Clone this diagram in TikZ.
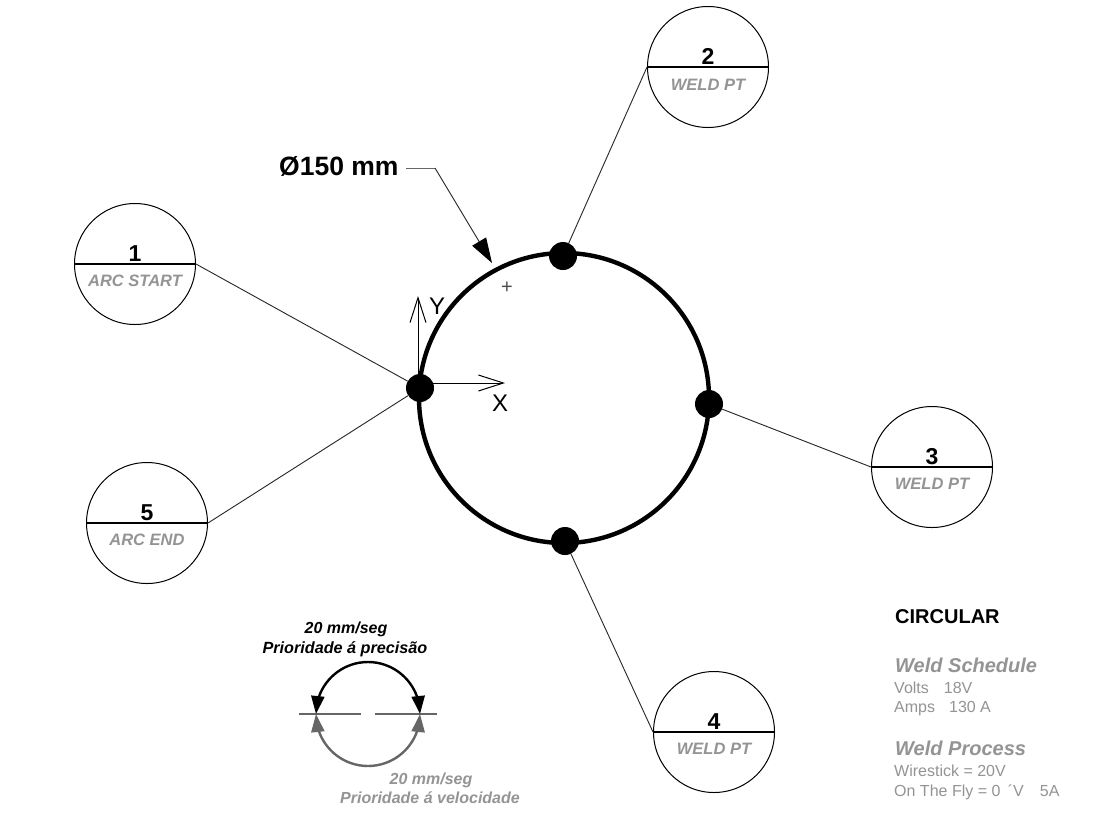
\documentclass[tikz,border=0pt]{standalone}
\usepackage{fontspec}
\setmainfont{Liberation Sans}
\usetikzlibrary{arrows.meta,bending}
\newcommand{\fs}[1]{\fontsize{#1}{#1}\selectfont}
\colorlet{softgray}{black!42}
\colorlet{midgray}{black!60}
\tikzset{
  bubble/.style={circle,draw=black,line width=1pt,minimum size=121pt,inner sep=0pt,fill=white},
  divider/.style={line width=1.2pt,black},
  leader/.style={line width=0.9pt,black!85},
  ptdot/.style={circle,fill=black,minimum size=28pt,inner sep=0pt},
  numtxt/.style={font=\bfseries\fs{23},anchor=base,inner sep=0pt},
  captxt/.style={font=\bfseries\itshape\fs{16.5},text=softgray,anchor=base,inner sep=0pt},
  ltxt/.style={anchor=base west,inner sep=0pt},
  solidhead/.style={-{Triangle[length=25pt,width=16pt,black]}},
  openhead/.style={-{Straight Barb[length=25pt,width=16pt,line width=1pt]}},
  speedhead/.style={{Triangle[length=18pt,width=13pt,flex=0.6]}-{Triangle[length=18pt,width=13pt,flex=0.6]}}
}
\begin{document}
\begin{tikzpicture}[x=1pt,y=-1pt]
\useasboundingbox (0,0) rectangle (1110,823);
\fill[white] (0,0) rectangle (1110,823);

% main circle
\node[circle,draw=black,line width=4.4pt,minimum size=290pt,inner sep=0pt] (ring) at (564,398) {};

% point dots (positions)
\node[ptdot] (d1) at (420,388) {};
\node[ptdot] (d2) at (563,256) {};
\node[ptdot] (d3) at (709,404) {};
\node[ptdot] (d4) at (565,541) {};

% bubbles
\node[bubble] (b1) at (135,264) {};
\node[bubble] (b2) at (708,67) {};
\node[bubble] (b3) at (932,467) {};
\node[bubble] (b4) at (714,732) {};
\node[bubble] (b5) at (147,523) {};
\foreach \b in {b1,b2,b3,b4,b5} \draw[divider] (\b.west) -- (\b.east);

\node[numtxt] (n1) at (135,261) {1};
\node[numtxt] (n2) at (708,64) {2};
\node[numtxt] (n3) at (932,464) {3};
\node[numtxt] (n4) at (714,729) {4};
\node[numtxt] (n5) at (147,520) {5};
\node[captxt] (c1) at (135,286) {ARC START};
\node[captxt] (c2) at (708,90) {WELD PT};
\node[captxt] (c3) at (932,489) {WELD PT};
\node[captxt] (c4) at (714,754) {WELD PT};
\node[captxt] (c5) at (147,545) {ARC END};

% connectors
\draw[leader] (b1.east) -- (d1);
\draw[leader] (b5.east) -- (d1);
\draw[leader] (b2.west) -- (d2);
\draw[leader] (b3.west) -- (d3);
\draw[leader] (b4.west) -- (d4);

% diameter leader
\node[ltxt,font=\bfseries\fs{26.5}] (dia) at (279,175) {Ø150 mm};
\coordinate (lk) at (435,168);
\coordinate (lt) at (492,263);
\coordinate (ls) at (406,168);
\draw[line width=1pt,midgray] (ls) -- (lk);
\draw[line width=0.9pt,black!85,solidhead] (lk) -- (lt);

% axes
\coordinate (ax) at (418,383);
\coordinate (ay) at (418,296);
\coordinate (axx) at (505,383);
\draw[line width=1pt,black,openhead] (ax) -- (axx);
\draw[line width=1pt,black,openhead] (ax) -- (ay);
\node[anchor=base,inner sep=0pt,font=\fs{24}] (ly) at (437,314) {Y};
\node[anchor=base,inner sep=0pt,font=\fs{24}] (lx) at (500,411) {X};
\node[anchor=center,inner sep=0pt,font=\fs{20},text=black!70] (plus) at (507,288) {+};

% speed diagram
\coordinate (sa) at (316,714);
\coordinate (sc) at (299,714);
\coordinate (sd) at (361,714);
\coordinate (se) at (375,714);
\coordinate (sf) at (437,714);
\draw[line width=2.2pt,midgray] (sc) -- (sd) (se) -- (sf);
\draw[line width=2.4pt,midgray,speedhead] (sa) arc[start angle=180,end angle=0,radius=52];
\draw[line width=2.4pt,black,speedhead] (sa) arc[start angle=180,end angle=360,radius=52];

\node[anchor=base,inner sep=0pt,font=\bfseries\itshape\fs{16}] (t1) at (346,633) {20 mm/seg};
\node[anchor=base,inner sep=0pt,font=\bfseries\itshape\fs{16.2}] (t2) at (345,653) {Prioridade á precisão};
\node[anchor=base,inner sep=0pt,font=\bfseries\itshape\fs{16},text=softgray] (t3) at (431,784) {20 mm/seg};
\node[anchor=base,inner sep=0pt,font=\bfseries\itshape\fs{16},text=softgray] (t4) at (430,803) {Prioridade á velocidade};

% right text block
\node[ltxt,font=\bfseries\fs{20}] (r1) at (895,623) {CIRCULAR};
\node[ltxt,font=\bfseries\itshape\fs{20},text=softgray] (r2) at (895,672) {Weld Schedule};
\node[ltxt,font=\fs{16},text=softgray] (r3) at (894,693) {Volts\hspace{15pt}18V};
\node[ltxt,font=\fs{16},text=softgray] (r4) at (894,712) {Amps\hspace{14pt}130 A};
\node[ltxt,font=\bfseries\itshape\fs{20},text=softgray] (r5) at (895,755) {Weld Process};
\node[ltxt,font=\fs{16},text=softgray] (r6) at (894,776) {Wirestick = 20V};
\node[ltxt,font=\fs{16},text=softgray] (r7) at (894,796) {On The Fly = 0\hspace{3pt} ´V\hspace{16pt}5A};
\end{tikzpicture}
\end{document}
